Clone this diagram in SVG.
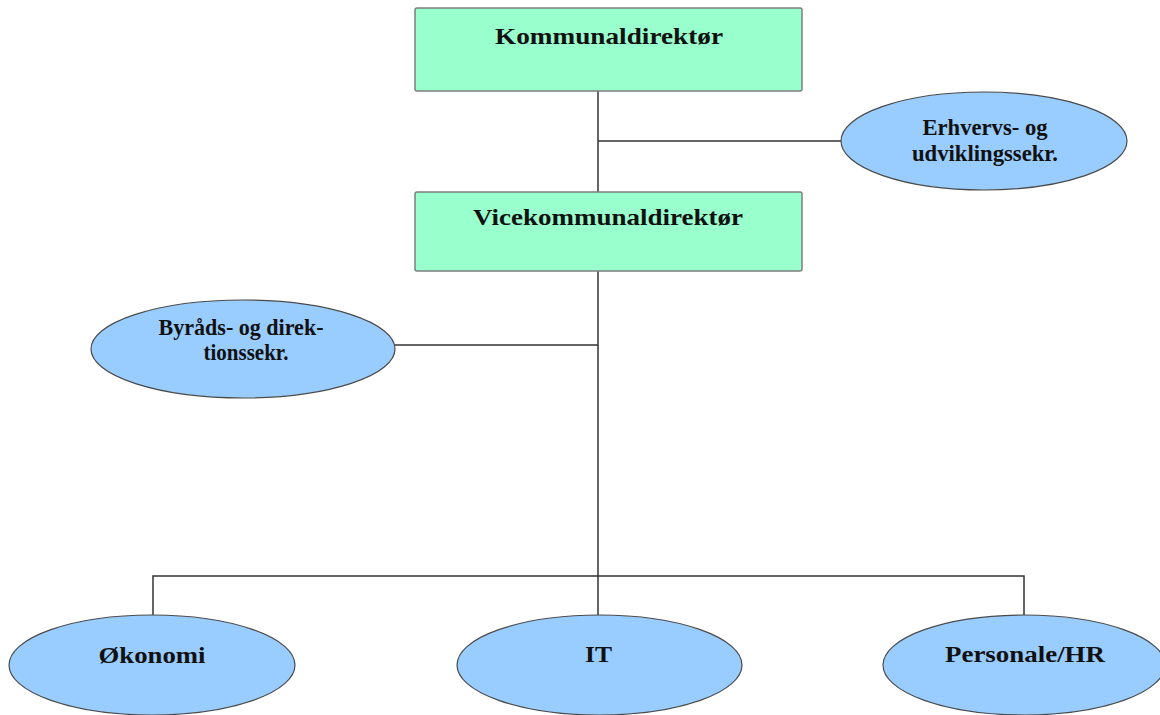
<svg xmlns="http://www.w3.org/2000/svg" width="1160" height="715" viewBox="0 0 1160 715">
<style>
.box{fill:#99ffcc;stroke:#7f7f7f;stroke-width:1.5}
.ell{fill:#99ccff;stroke:#4a4a4a;stroke-width:1.2}
.lbl{font-family:"Liberation Serif","Times New Roman",serif;font-weight:bold;font-size:23px;fill:#111;text-anchor:middle}
.con{stroke:#333;stroke-width:1.5;fill:none}
</style>
<rect width="1160" height="715" fill="#ffffff"/>
<g id="connectors">
<path class="con" d="M598 91V192M598 271V615M598 141H842M395 345H598M153 615V576H1024V615"/>
</g>
<g id="kommunaldirektor">
<rect class="box" x="415" y="8" width="387" height="83" rx="2"/>
<text class="lbl" x="609" y="44" textLength="228" lengthAdjust="spacingAndGlyphs">Kommunaldirektør</text>
</g>
<g id="vicekommunaldirektor">
<rect class="box" x="415" y="192" width="387" height="79" rx="2"/>
<text class="lbl" x="608" y="225" textLength="270" lengthAdjust="spacingAndGlyphs">Vicekommunaldirektør</text>
</g>
<g id="erhvervs">
<ellipse class="ell" cx="984" cy="141" rx="143" ry="49"/>
<text class="lbl" x="985" y="135" textLength="125" lengthAdjust="spacingAndGlyphs">Erhvervs- og</text>
<text class="lbl" x="985" y="161" textLength="146" lengthAdjust="spacingAndGlyphs">udviklingssekr.</text>
</g>
<g id="byraads">
<ellipse class="ell" cx="243" cy="349" rx="152" ry="49"/>
<text class="lbl" x="241" y="335" textLength="165" lengthAdjust="spacingAndGlyphs">Byråds- og direk-</text>
<text class="lbl" x="246" y="360" textLength="85" lengthAdjust="spacingAndGlyphs">tionssekr.</text>
</g>
<g id="okonomi">
<ellipse class="ell" cx="152" cy="665" rx="143" ry="50"/>
<text class="lbl" x="152" y="663" textLength="107" lengthAdjust="spacingAndGlyphs">Økonomi</text>
</g>
<g id="it">
<ellipse class="ell" cx="599.5" cy="665" rx="142.5" ry="50"/>
<text class="lbl" x="598.5" y="662" textLength="27" lengthAdjust="spacingAndGlyphs">IT</text>
</g>
<g id="personale">
<ellipse class="ell" cx="1024" cy="665" rx="141" ry="50"/>
<text class="lbl" x="1025" y="662" textLength="160" lengthAdjust="spacingAndGlyphs">Personale/HR</text>
</g>
</svg>
